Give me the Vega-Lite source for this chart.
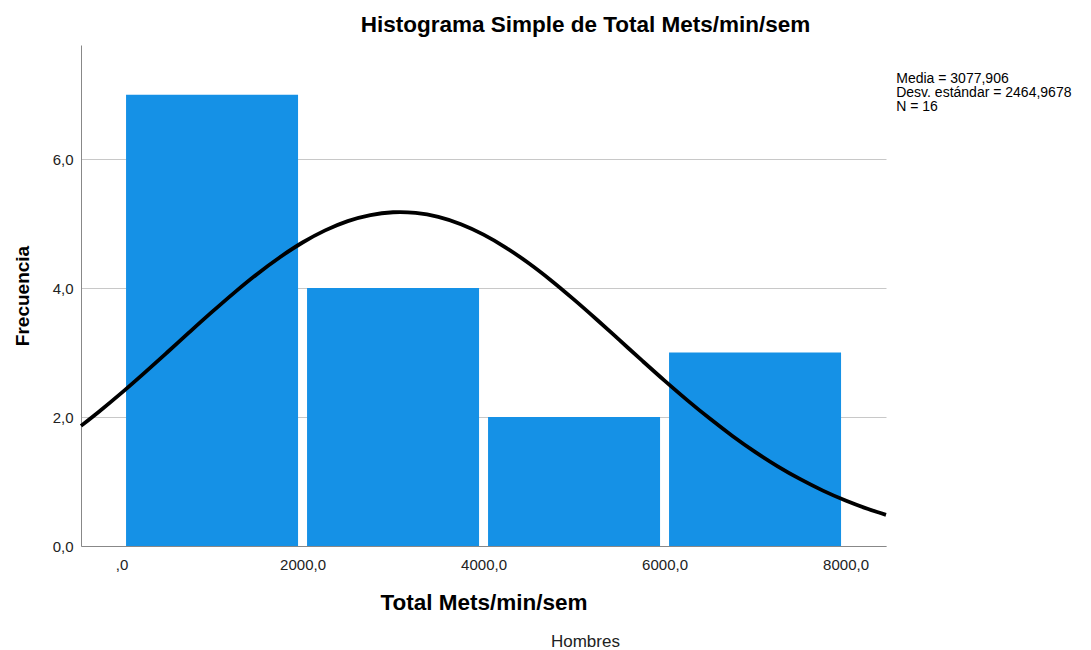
{
  "$schema": "https://vega.github.io/schema/vega-lite/v6.json",
  "width": 805,
  "height": 501,
  "autosize": {"type": "none"},
  "padding": {"left": 81, "top": 45, "right": 205, "bottom": 104},
  "background": "white",
  "config": {
    "font": "Liberation Sans",
    "view": {"stroke": null},
    "axis": {"labelFont": "Liberation Sans", "titleFont": "Liberation Sans"}
  },
  "title": {
    "text": "Histograma Simple de Total Mets/min/sem",
    "fontSize": 22.5,
    "fontWeight": "bold",
    "color": "#000000",
    "anchor": "middle",
    "dx": 102,
    "dy": 19,
    "baseline": "alphabetic",
    "offset": 10
  },
  "datasets": {
    "bins": [
      {"bin_start": 0, "bin_end": 2000, "count": 7},
      {"bin_start": 2000, "bin_end": 4000, "count": 4},
      {"bin_start": 4000, "bin_end": 6000, "count": 2},
      {"bin_start": 6000, "bin_end": 8000, "count": 3}
    ],
    "curve": [
      {"x": -448, "y": 1.863},
      {"x": -250, "y": 2.083},
      {"x": 0, "y": 2.375},
      {"x": 250, "y": 2.682},
      {"x": 500, "y": 2.997},
      {"x": 750, "y": 3.316},
      {"x": 1000, "y": 3.630},
      {"x": 1250, "y": 3.934},
      {"x": 1500, "y": 4.220},
      {"x": 1750, "y": 4.479},
      {"x": 2000, "y": 4.707},
      {"x": 2250, "y": 4.895},
      {"x": 2500, "y": 5.039},
      {"x": 2750, "y": 5.133},
      {"x": 3000, "y": 5.176},
      {"x": 3078, "y": 5.179},
      {"x": 3250, "y": 5.166},
      {"x": 3500, "y": 5.104},
      {"x": 3750, "y": 4.990},
      {"x": 4000, "y": 4.829},
      {"x": 4250, "y": 4.625},
      {"x": 4500, "y": 4.385},
      {"x": 4750, "y": 4.115},
      {"x": 5000, "y": 3.821},
      {"x": 5250, "y": 3.513},
      {"x": 5500, "y": 3.196},
      {"x": 5750, "y": 2.878},
      {"x": 6000, "y": 2.565},
      {"x": 6250, "y": 2.263},
      {"x": 6500, "y": 1.976},
      {"x": 6750, "y": 1.707},
      {"x": 7000, "y": 1.460},
      {"x": 7250, "y": 1.236},
      {"x": 7500, "y": 1.036},
      {"x": 7750, "y": 0.859},
      {"x": 8000, "y": 0.705},
      {"x": 8250, "y": 0.573},
      {"x": 8447, "y": 0.483}
    ],
    "stats": [
      {"stats": "Media = 3077,906\nDesv. estándar = 2464,9678\nN = 16"}
    ],
    "group": [
      {"group": "Hombres"}
    ]
  },
  "layer": [
    {
      "data": {"name": "bins"},
      "mark": {"type": "bar", "color": "#1591E6", "orient": "vertical", "xOffset": 4.5, "x2Offset": -4.5},
      "encoding": {
        "x": {
          "field": "bin_start",
          "type": "quantitative",
          "scale": {"domain": [-448, 8447], "nice": false, "zero": false, "padding": 0},
          "axis": {
            "values": [0, 2000, 4000, 6000, 8000],
            "labelExpr": "datum.value == 0 ? ',0' : replace(format(datum.value, '.1f'), '.', ',')",
            "title": "Total Mets/min/sem",
            "titleFontSize": 22.5,
            "titleFontWeight": "bold",
            "titleColor": "#000000",
            "titlePadding": 19,
            "labelFontSize": 15,
            "labelColor": "#222222",
            "labelPadding": 11,
            "labelFlush": false,
            "ticks": false,
            "grid": false,
            "domainColor": "#888888",
            "domainWidth": 1
          }
        },
        "x2": {"field": "bin_end"},
        "y": {
          "field": "count",
          "type": "quantitative",
          "scale": {"domain": [0, 7.77], "nice": false, "padding": 0},
          "axis": {
            "values": [0, 2, 4, 6],
            "labelExpr": "replace(format(datum.value, '.1f'), '.', ',')",
            "title": "Frecuencia",
            "titleFontSize": 19,
            "titleFontWeight": "bold",
            "titleColor": "#000000",
            "titlePadding": 20,
            "labelFontSize": 15,
            "labelColor": "#222222",
            "labelPadding": 8,
            "labelFlush": false,
            "ticks": false,
            "grid": true,
            "gridColor": "#c8c8c8",
            "gridWidth": 1,
            "domainColor": "#888888",
            "domainWidth": 1
          }
        },
        "y2": {"datum": 0}
      }
    },
    {
      "data": {"name": "curve"},
      "mark": {"type": "line", "color": "#000000", "strokeWidth": 3.8, "interpolate": "monotone"},
      "encoding": {
        "x": {"field": "x", "type": "quantitative"},
        "y": {"field": "y", "type": "quantitative"}
      }
    },
    {
      "data": {"name": "stats"},
      "mark": {"type": "text", "align": "left", "baseline": "top", "fontSize": 14, "lineHeight": 14, "lineBreak": "\n", "color": "#000000"},
      "encoding": {
        "x": {"datum": 8560},
        "y": {"datum": 7.35},
        "text": {"field": "stats"}
      }
    },
    {
      "data": {"name": "group"},
      "mark": {"type": "text", "align": "center", "baseline": "middle", "fontSize": 17, "color": "#222222"},
      "encoding": {
        "x": {"datum": 5126},
        "y": {"datum": -1.49},
        "text": {"field": "group"}
      }
    }
  ]
}
